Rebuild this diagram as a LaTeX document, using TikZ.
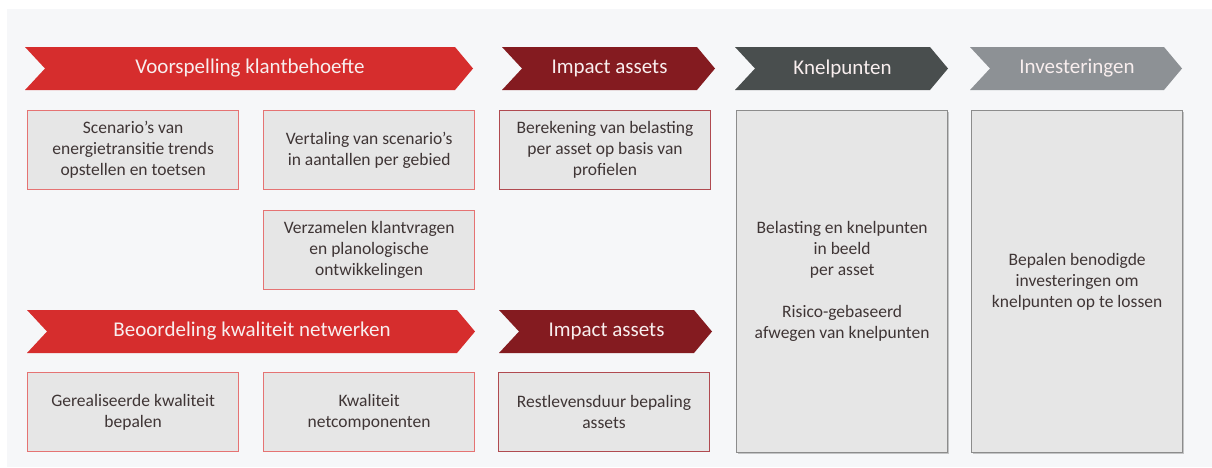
\documentclass[tikz,border=0pt]{standalone}
\usepackage{fontspec}
\setmainfont{Carlito}
\usetikzlibrary{shadows}
\definecolor{bgpanel}{HTML}{F6F7F9}
\definecolor{cred}{HTML}{D62D2D}
\definecolor{cdarkred}{HTML}{841B20}
\definecolor{cdarkgray}{HTML}{494E4E}
\definecolor{clightgray}{HTML}{8D9195}
\definecolor{boxfill}{HTML}{E6E6E6}
\definecolor{redborder}{HTML}{E57373}
\definecolor{impborder}{HTML}{B04A50}
\definecolor{grayborder}{HTML}{8C8C8C}
\definecolor{txt}{HTML}{3F3535}
\definecolor{chevtxt}{HTML}{F8EEEE}
\newcommand\chev[7]{%
  \fill[#6] (#2,#4) -- ({#3-18},#4) -- (#3,{(#4+#5)/2}) -- ({#3-18},#5) -- (#2,#5) -- ({#2+20},{(#4+#5)/2}) -- cycle;
  \node[chevtext] (#1) at ({(#2+#3)/2+1},{(#4+#5)/2}) {#7};}
\begin{document}
\begin{tikzpicture}[x=1pt,y=-1pt,
  chevtext/.style={text=chevtxt,font=\fontsize{21}{25}\selectfont,inner sep=0pt},
  box/.style={draw=redborder,line width=1.3pt,fill=boxfill,anchor=north west,
    minimum width=211pt,minimum height=79pt,text=txt,align=center,
    font=\fontsize{17.5}{21}\selectfont,inner sep=2pt},
  impbox/.style={box,draw=impborder,line width=1pt},
  bigbox/.style={box,draw=grayborder,line width=1.2pt,minimum height=342pt,
    drop shadow={shadow xshift=1.5pt,shadow yshift=-1.5pt,opacity=0.35,fill=black!60}}]
\useasboundingbox (0,0) rectangle (1212,467);
\fill[white] (0,0) rectangle (1212,467);
\fill[bgpanel] (7,9) rectangle (1212,467);
% chevrons
\chev{c1}{25}{473}{47}{90}{cred}{Voorspelling klantbehoefte}
\chev{c2}{502}{715}{47}{90}{cdarkred}{Impact assets}
\chev{c3}{735}{948}{47}{90}{cdarkgray}{Knelpunten}
\chev{c4}{970}{1182}{47}{90}{clightgray}{Investeringen}
\chev{c5}{27}{475}{310}{353}{cred}{Beoordeling kwaliteit netwerken}
\chev{c6}{499}{712}{310}{353}{cdarkred}{Impact assets}
% boxes
\node[box] (b1) at (27,110) {Scenario’s van\\energietransitie trends\\opstellen en toetsen};
\node[box] (b2) at (263,110) {Vertaling van scenario’s\\in aantallen per gebied};
\node[box] (b3) at (263,210) {Verzamelen klantvragen\\en planologische\\ontwikkelingen};
\node[impbox] (b4) at (499,110) {Berekening van belasting\\per asset op basis van\\profielen};
\node[box] (b5) at (27,372) {Gerealiseerde kwaliteit\\bepalen};
\node[box] (b6) at (263,372) {Kwaliteit\\netcomponenten};
\node[impbox] (b7) at (498,372) {Restlevensduur bepaling\\assets};
\node[bigbox] (b8) at (736,110) {Belasting en knelpunten\\in beeld\\per asset\\[21pt]Risico-gebaseerd\\afwegen van knelpunten};
\node[bigbox] (b9) at (971,110) {Bepalen benodigde\\investeringen om\\knelpunten op te lossen};
\end{tikzpicture}
\end{document}
